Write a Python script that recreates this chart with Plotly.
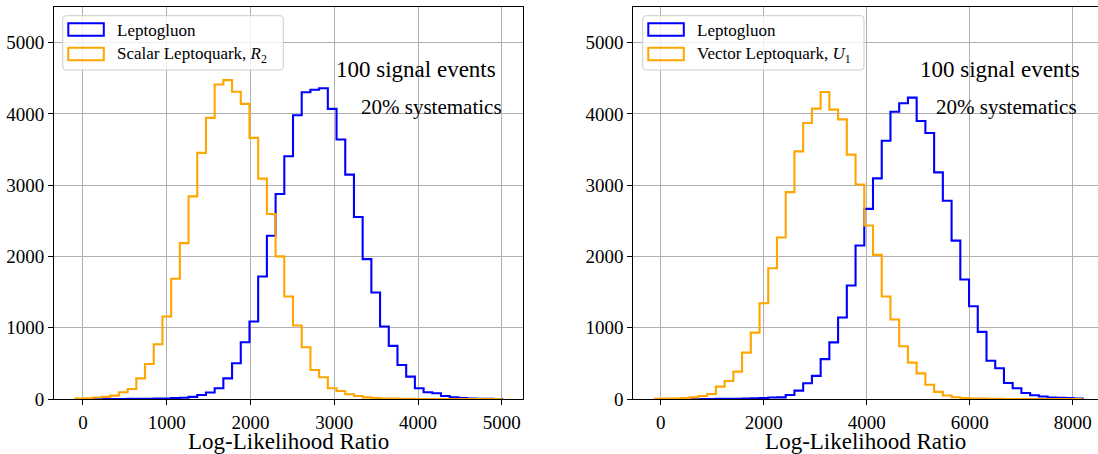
import plotly.graph_objects as go

W, H = 1098, 454

# ---------------- data ----------------
# Left panel: Leptogluon vs Scalar Leptoquark R2, 49 equal bins
left_bin_start = -90.0
left_bin_width = 103.9
left_leptogluon = [0, 0, 0, 0, 1, 1, 2, 3, 4, 6, 8, 12, 17, 30, 56, 92, 150, 290,
                   502, 797, 1087, 1720, 2291, 2877, 3407, 3983, 4306, 4340, 4362,
                   4072, 3641, 3149, 2554, 1963, 1495, 1017, 745, 478, 314, 150, 94,
                   80, 42, 23, 14, 6, 4, 2, 1]
left_scalar_lq = [5, 10, 20, 30, 47, 94, 141, 290, 492, 768, 1157, 1687, 2188, 2844,
                  3454, 3946, 4414, 4475, 4311, 4142, 3664, 3093, 2596, 2001, 1439,
                  1031, 726, 408, 305, 150, 112, 66, 42, 23, 14, 8, 5, 3, 2, 1, 1, 1,
                  0, 0, 0, 0, 0, 0, 0]

# Right panel: Leptogluon vs Vector Leptoquark U1, 49 equal bins
right_bin_start = -115.0
right_bin_width = 169.5
right_leptogluon = [0, 0, 0, 0, 0, 1, 1, 2, 3, 4, 6, 9, 14, 20, 23, 56, 117, 220, 325,
                    560, 794, 1143, 1593, 2155, 2668, 3096, 3624, 4031, 4150, 4230,
                    3902, 3734, 3181, 2782, 2223, 1677, 1302, 942, 536, 431, 225, 150,
                    85, 52, 35, 22, 16, 12, 8]
right_vector_lq = [3, 5, 8, 12, 23, 42, 70, 173, 253, 384, 651, 932, 1344, 1836, 2267,
                   2904, 3475, 3873, 4075, 4309, 4061, 3925, 3430, 3010, 2434, 2023,
                   1438, 1115, 740, 510, 360, 200, 100, 50, 25, 15, 8, 5, 3, 2, 1, 1,
                   0, 0, 0, 0, 0, 0, 0]

left_xticks = [0, 1000, 2000, 3000, 4000, 5000]
right_xticks = [0, 2000, 4000, 6000, 8000]
yticks = [0, 1000, 2000, 3000, 4000, 5000]

series_names = ["Leptogluon", "Scalar Leptoquark, <i>R</i><sub>2</sub>",
                "Vector Leptoquark, <i>U</i><sub>1</sub>"]
BLUE = "#0000ff"
ORANGE = "#ffa500"
FONT = "Liberation Serif, Times New Roman, serif"


def step_xy(start, width, counts):
    n = len(counts)
    edges = [start + width * k for k in range(n + 1)]
    xs = [edges[0]] + edges[:n] + [edges[n], edges[n]]
    ys = [0] + list(counts) + [counts[-1], 0]
    return xs, ys


def fx(p):
    return p / W


def fy(p):
    return 1 - p / H


fig = go.Figure()

for (start, width, counts, color, xa, ya) in [
    (left_bin_start, left_bin_width, left_leptogluon, BLUE, "x", "y"),
    (left_bin_start, left_bin_width, left_scalar_lq, ORANGE, "x", "y"),
    (right_bin_start, right_bin_width, right_leptogluon, BLUE, "x2", "y2"),
    (right_bin_start, right_bin_width, right_vector_lq, ORANGE, "x2", "y2"),
]:
    xs, ys = step_xy(start, width, counts)
    fig.add_trace(go.Scatter(x=xs, y=ys, mode="lines", line=dict(color=color, width=2.1, shape="hv"),
                             xaxis=xa, yaxis=ya, showlegend=False, hoverinfo="skip"))

ydom = [fy(399), fy(7.1)]
axis_common = dict(showgrid=True, gridcolor="#b0b0b0", gridwidth=1, showline=True,
                   linecolor="black", linewidth=1, ticks="outside", ticklen=5,
                   tickwidth=1, tickcolor="black", zeroline=False,
                   tickfont=dict(family=FONT, size=19, color="black"), automargin=False)
xtitle = dict(text="Log-Likelihood Ratio", font=dict(family=FONT, size=23, color="black"), standoff=4)

fig.update_layout(
    width=W, height=H, autosize=False,
    margin=dict(l=0, r=0, t=0, b=0),
    paper_bgcolor="white", plot_bgcolor="white",
    showlegend=False,
    xaxis=dict(domain=[fx(54), fx(523.3)], range=[-345, 5256], tickvals=left_xticks,
               anchor="y", mirror=True, ticklabelstandoff=1, title=xtitle, **axis_common),
    yaxis=dict(domain=ydom, range=[0, 5500], tickvals=yticks, anchor="x", mirror=True, **axis_common),
    xaxis2=dict(domain=[fx(633.4), 1.0], range=[-530, 8491], tickvals=right_xticks,
                anchor="y2", mirror=True, ticklabelstandoff=1, title=xtitle, **axis_common),
    yaxis2=dict(domain=ydom, range=[0, 5500], tickvals=yticks, anchor="x2", mirror=False, **axis_common),
)


def rounded_rect(x0, y0, x1, y1, r=4):
    # pixel coords -> paper path
    def P(x, y):
        return f"{fx(x):.6f},{fy(y):.6f}"
    return (f"M {P(x0 + r, y0)} L {P(x1 - r, y0)} Q {P(x1, y0)} {P(x1, y0 + r)} "
            f"L {P(x1, y1 - r)} Q {P(x1, y1)} {P(x1 - r, y1)} L {P(x0 + r, y1)} "
            f"Q {P(x0, y1)} {P(x0, y1 - r)} L {P(x0, y0 + r)} Q {P(x0, y0)} {P(x0 + r, y0)} Z")


shapes = []
annotations = []
for (lx0, lx1, name2) in [(62.7, 283.3, series_names[1]), (642.7, 864.0, series_names[2])]:
    shapes.append(dict(type="path", xref="paper", yref="paper", path=rounded_rect(lx0, 15.7, lx1, 70),
                       fillcolor="rgba(255,255,255,0.8)", line=dict(color="#cccccc", width=1)))
    ix0 = lx0 + 5.6
    ix1 = ix0 + 35.5
    for (iy0, iy1, col, label) in [(23.3, 35.7, BLUE, series_names[0]), (47.7, 60.3, ORANGE, name2)]:
        shapes.append(dict(type="rect", xref="paper", yref="paper", x0=fx(ix0), x1=fx(ix1),
                           y0=fy(iy1), y1=fy(iy0), line=dict(color=col, width=2), fillcolor="rgba(0,0,0,0)"))
        annotations.append(dict(xref="paper", yref="paper", x=fx(ix1 + 11), y=fy((iy0 + iy1) / 2 + 1),
                                xanchor="left", yanchor="middle", text=label, showarrow=False,
                                font=dict(family=FONT, size=17, color="black")))

for (xa, ya, x1, x2) in [("x", "y", 3000, 3300), ("x2", "y2", 5000, 5300)]:
    annotations.append(dict(xref=xa, yref=ya, x=x1, y=4625, xanchor="left", yanchor="middle",
                            text="100 signal events", showarrow=False,
                            font=dict(family=FONT, size=23, color="black")))
    annotations.append(dict(xref=xa, yref=ya, x=x2, y=4100, xanchor="left", yanchor="middle",
                            text="20% systematics", showarrow=False,
                            font=dict(family=FONT, size=21, color="black")))

fig.update_layout(shapes=shapes, annotations=annotations)

fig.write_html("out.html")
